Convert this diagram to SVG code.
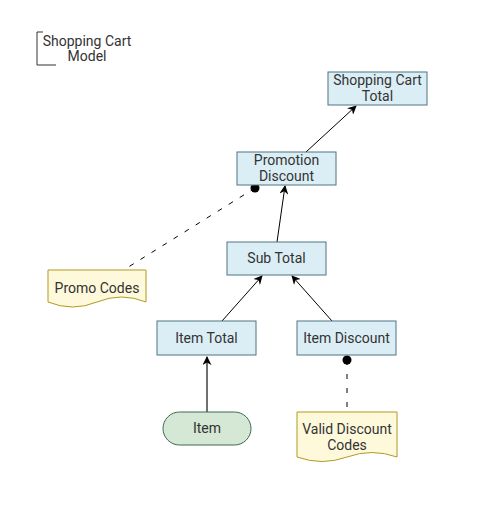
<svg xmlns="http://www.w3.org/2000/svg" width="494" height="517" viewBox="0 0 494 517">
<defs>
<style>
.box{fill:#dceef5;stroke:#4e7482;stroke-width:1}
.doc{fill:#fff9dc;stroke:#b09a1e;stroke-width:1}
.t{font-family:Roboto,"Liberation Sans",sans-serif;font-size:14px;fill:#333;text-anchor:middle}
.e{fill:none;stroke:#000;stroke-width:1}
</style>
<marker id="arr" viewBox="0 0 10 10" refX="9" refY="5" markerWidth="9" markerHeight="9" markerUnits="userSpaceOnUse" orient="auto">
<path d="M0,0 L10,5 L0,10 L3,5 Z" fill="#000"/>
</marker>
</defs>
<rect width="494" height="517" fill="#fff"/>
<g id="model-label">
<path d="M43,32 H37 V65 H56" fill="none" stroke="#333" stroke-width="1"/>
<text class="t" x="87" y="46">Shopping Cart</text>
<text class="t" x="87" y="61">Model</text>
</g>
<g id="connectors">
<line class="e" x1="306" y1="152" x2="356" y2="106" marker-end="url(#arr)"/>
<line class="e" x1="277" y1="242" x2="285" y2="186" marker-end="url(#arr)"/>
<line class="e" x1="222" y1="321" x2="262" y2="276" marker-end="url(#arr)"/>
<line class="e" x1="332" y1="321" x2="292" y2="276" marker-end="url(#arr)"/>
<line x1="207" y1="412" x2="207" y2="357" stroke="#707070" stroke-width="2" marker-end="url(#arr)"/>
<line x1="255" y1="188" x2="122" y2="271" stroke="#000" stroke-width="1" stroke-dasharray="5 8"/>
<circle cx="255" cy="188" r="4.5" fill="#000"/>
<line x1="347" y1="360" x2="347" y2="412" stroke="#808080" stroke-width="2" stroke-dasharray="5 9"/>
<circle cx="347" cy="360" r="4.5" fill="#000"/>
</g>
<g id="shopping-cart-total">
<rect class="box" x="328" y="72" width="99" height="33"/>
<text class="t" x="377.5" y="85">Shopping Cart</text>
<text class="t" x="377.5" y="101">Total</text>
</g>
<g id="promotion-discount">
<rect class="box" x="237" y="152" width="99" height="33"/>
<text class="t" x="286.5" y="165">Promotion</text>
<text class="t" x="286.5" y="181">Discount</text>
</g>
<g id="sub-total">
<rect class="box" x="227" y="242" width="99" height="33"/>
<text class="t" x="276.5" y="263">Sub Total</text>
</g>
<g id="item-total">
<rect class="box" x="157" y="321" width="99" height="34"/>
<text class="t" x="206.5" y="343">Item Total</text>
</g>
<g id="item-discount">
<rect class="box" x="297" y="321" width="99" height="34"/>
<text class="t" x="346.5" y="343">Item Discount</text>
</g>
<g id="item">
<rect x="163" y="412" width="88" height="33" rx="16.5" fill="#d5e8d6" stroke="#3d6b4c" stroke-width="1"/>
<text class="t" x="207" y="433">Item</text>
</g>
<g id="promo-codes">
<path class="doc" d="M48,270 H146 V302 Q121.5,292 97,302 Q72.5,312 48,302 Z"/>
<text class="t" x="97" y="293">Promo Codes</text>
</g>
<g id="valid-discount-codes">
<path class="doc" d="M297,412 H397 V457 Q372,448 347,457 Q322,466 297,457 Z"/>
<text class="t" x="347" y="434">Valid Discount</text>
<text class="t" x="347" y="450">Codes</text>
</g>
</svg>
